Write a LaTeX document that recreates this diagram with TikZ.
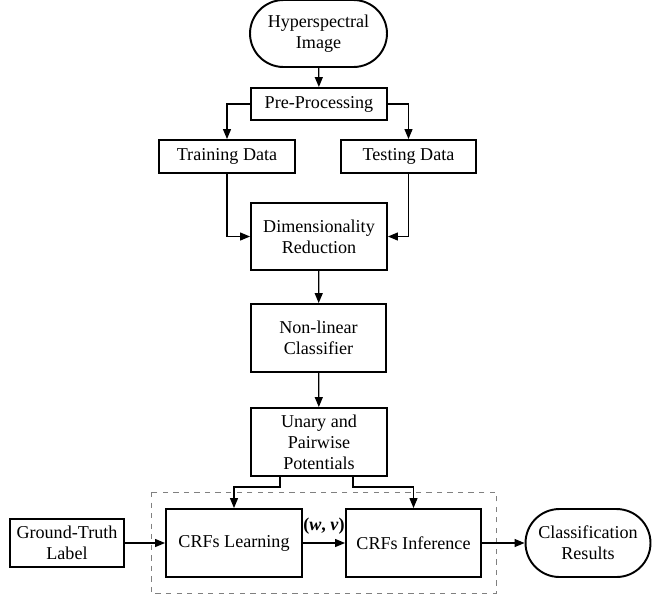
\documentclass[tikz,border=0pt]{standalone}
\usepackage{fontspec}
\setmainfont{Liberation Serif}
\usetikzlibrary{arrows.meta,shapes.misc}

\begin{document}
\begin{tikzpicture}[x=0.02cm,y=-0.02cm]
\tikzset{box/.style = {shape=rectangle,draw,line width=1.1pt,align=center,inner sep=0pt,
                       font=\fontsize{10.3}{12}\selectfont},
         term/.style = {box,shape=rounded rectangle},
         arr/.style = {-{Triangle[length=0.2cm,width=0.16cm]},line width=0.7pt}}
\useasboundingbox (0,0) rectangle (652,596);
% frame round the CRF part
\draw[gray,dashed,line width=0.5pt] (151,492) rectangle (496,593);
% vertices
\node[term,minimum width=2.74cm,minimum height=1.34cm] (hsi) at (318.5,33.5) {Hyperspectral\\Image};
\node[box,minimum width=2.72cm,minimum height=0.64cm] (pre) at (319,104) {Pre-Processing};
\node[box,minimum width=2.72cm,minimum height=0.66cm] (train) at (227,156.5) {Training Data};
\node[box,minimum width=2.7cm,minimum height=0.66cm] (test) at (408.5,156.5) {Testing Data};
\node[box,minimum width=2.72cm,minimum height=1.34cm] (dim) at (319,236.5) {Dimensionality\\Reduction};
\node[box,minimum width=2.7cm,minimum height=1.36cm] (nlc) at (318.5,338) {Non-linear\\Classifier};
\node[box,minimum width=2.72cm,minimum height=1.36cm] (unary) at (319,442) {Unary and\\Pairwise\\Potentials};
\node[box,minimum width=2.72cm,minimum height=1.36cm] (learn) at (234,543) {CRFs Learning};
\node[box,minimum width=2.7cm,minimum height=1.36cm] (infer) at (413.5,543) {CRFs Inference};
\node[box,minimum width=2.28cm,minimum height=0.96cm] (gt) at (67,543) {Ground-Truth\\Label};
\node[term,minimum width=2.5cm,minimum height=1.36cm] (res) at (588,543) {Classification\\Results};
% edges
\foreach \i/\j in {hsi/pre,dim/nlc,nlc/unary,gt/learn,infer/res} {
    \draw[arr] (\i) -- (\j);
}
\draw[arr] (learn) -- node[above=1pt,font=\fontsize{10.3}{12}\selectfont] {\textbf{(\textit{w}, \textit{v})}} (infer);
\draw[arr] (pre.west) -| (train.north);
\draw[arr] (pre.east) -| (test.north);
\draw[arr] (train.south) |- (dim.west);
\draw[arr] (test.south) |- (dim.east);
\draw[arr] ([xshift=0.6cm]unary.south west) -- ++(0,10) -| (learn.north);
\draw[arr] ([xshift=-0.7cm]unary.south east) -- ++(0,10) -| (infer.north);
\end{tikzpicture}
\end{document}
